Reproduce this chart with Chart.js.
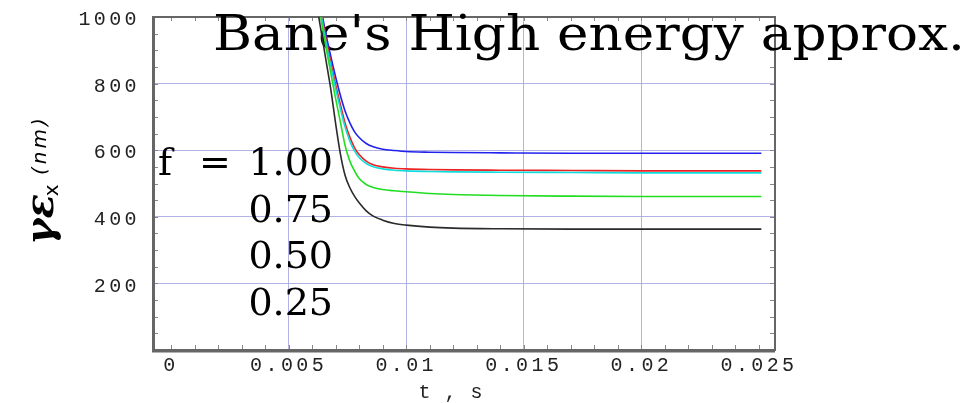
<!DOCTYPE html>
<html><head><meta charset="utf-8">
<script src="https://cdn.jsdelivr.net/npm/chart.js"></script>
<style>html,body{margin:0;padding:0;background:#fff}#wrap{width:974px;height:403px}</style>
</head><body><div id="wrap"><canvas id="c" width="974" height="403"></canvas></div>
<script>
// ---- data ----
const times = [0.0062, 0.0064, 0.0066, 0.0068, 0.0070, 0.0072, 0.0074, 0.0076, 0.0078, 0.0080, 0.0083, 0.0086, 0.0090, 0.0095, 0.0100, 0.0110, 0.0120, 0.0140, 0.0170, 0.0200, 0.0230, 0.0251];
const blueVals  = [1130, 1020, 945, 880, 820, 765, 718, 683, 656, 638, 620, 610, 603, 599, 596, 594, 593, 592, 591, 591, 591, 591];
const redVals   = [1110, 1010, 930, 862, 797, 738, 682, 640, 608, 587, 567, 556, 550, 546, 544, 542, 541, 540, 539, 538, 538, 538];
const cyanVals  = [1100, 1000, 920, 850, 785, 725, 670, 628, 598, 578, 560, 550, 544, 540, 538, 536, 535, 534, 533, 532, 532, 532];
const greenVals = [1080, 985, 905, 830, 755, 685, 615, 568, 538, 515, 497, 488, 482, 478, 475, 470, 467, 464, 462, 461, 461, 461];
const blackVals = [1035, 950, 865, 780, 680, 590, 525, 488, 462, 442, 418, 402, 390, 380, 375, 369, 366, 364, 363, 363, 363, 363];
const xTickLabels = ['0', '0.005', '0.01', '0.015', '0.02', '0.025'];
const yTickLabels = ['200', '400', '600', '800', '1000'];
const fLabels = ['1.00', '0.75', '0.50', '0.25'];
const titleText = "Bane's High energy approx.";
const xTitle = 't , s';

const pts = vals => times.map((t, i) => ({x: t, y: vals[i]}));
const mk = (vals, color) => ({data: pts(vals), borderColor: color, borderWidth: 1.6, pointRadius: 0, fill: false, cubicInterpolationMode: 'monotone'});

const GRID = 'rgba(170,170,225,0.9)';
const FRAME = '#666';

const decor = {
  id: 'decor',
  beforeDraw(chart) { chart.ctx.letterSpacing = '3.4px'; },
  beforeDatasetsDraw(chart) {
    const {ctx, chartArea: a, scales: {x, y}} = chart;
    ctx.save();
    ctx.letterSpacing = '0px';
    // minor ticks
    ctx.strokeStyle = '#888'; ctx.lineWidth = 1;
    ctx.beginPath();
    for (let v = 50; v < 1000; v += 50) {
      const py = Math.round(y.getPixelForValue(v)) + 0.5;
      ctx.moveTo(a.left, py); ctx.lineTo(a.left + 5, py);
      ctx.moveTo(a.right, py); ctx.lineTo(a.right - 5, py);
    }
    for (let k = 0; k <= 25; k++) {
      const px = Math.round(x.getPixelForValue(k * 0.001)) + 0.5;
      ctx.moveTo(px, a.bottom); ctx.lineTo(px, a.bottom - 5);
      ctx.moveTo(px, a.top); ctx.lineTo(px, a.top + 4);
    }
    ctx.stroke();
    // frame
    ctx.strokeStyle = FRAME;
    ctx.lineWidth = 2;
    ctx.strokeRect(a.left, a.top, a.right - a.left, a.bottom - a.top);
    ctx.lineWidth = 3;
    ctx.beginPath(); ctx.moveTo(a.left + 0.5, a.top); ctx.lineTo(a.left + 0.5, a.bottom + 1); ctx.lineTo(a.right, a.bottom + 1); ctx.stroke();
    // title (stretched to the reference width)
    ctx.fillStyle = '#000';
    ctx.textBaseline = 'alphabetic';
    ctx.font = '48px "DejaVu Serif"';
    ctx.textAlign = 'left';
    const tw = ctx.measureText(titleText).width;
    ctx.save();
    ctx.translate(213, 50);
    ctx.scale(752 / tw, 1);
    ctx.fillText(titleText, 0, 0);
    ctx.restore();
    // f legend text
    ctx.font = '38px "DejaVu Serif"';
    ctx.textAlign = 'left';
    ctx.fillText('f', 158, 175);
    ctx.textAlign = 'center';
    ctx.fillText('=', 215, 175);
    ctx.textAlign = 'right';
    fLabels.forEach((s, i) => ctx.fillText(s, 333, 175 + i * 46.7));
    // x title
    ctx.font = '20px "Liberation Mono"';
    ctx.letterSpacing = '1px';
    ctx.textAlign = 'center';
    ctx.fillStyle = '#222';
    ctx.fillText(xTitle, 451, 398);
    ctx.letterSpacing = '0px';
    // y title rotated
    ctx.translate(53, 245);
    ctx.rotate(-Math.PI / 2);
    ctx.fillStyle = '#000';
    ctx.textAlign = 'left';
    ctx.font = 'bold italic 40px "DejaVu Serif"';
    ctx.fillText('\u03B3\u03B5', 0, 0);
    const w = ctx.measureText('\u03B3\u03B5').width;
    ctx.font = '20px "DejaVu Sans"';
    ctx.fillText('x', w - 2, 5);
    ctx.font = 'italic 20px "DejaVu Sans"';
    ctx.letterSpacing = '3px';
    ctx.fillText('(nm)', 70, -7);
    ctx.restore();
  },
  afterDraw(chart) { chart.ctx.letterSpacing = '0px'; }
};

new Chart(document.getElementById('c'), {
  type: 'line',
  data: {datasets: [mk(blackVals, '#2a2a2a'), mk(greenVals, '#22dd22'), mk(cyanVals, '#11dddd'), mk(redVals, '#ee2222'), mk(blueVals, '#2222ee')]},
  options: {
    responsive: false, animation: false, devicePixelRatio: 1,
    layout: {padding: {top: 17, right: 199, left: 0, bottom: 0}},
    plugins: {legend: {display: false}, tooltip: {enabled: false}, title: {display: false}},
    scales: {
      x: {
        type: 'linear', min: -0.000765, max: 0.02568,
        border: {display: false},
        grid: {drawTicks: false, color: c => (c.tick && (c.tick.value === 0 || c.tick.value >= 0.025)) ? 'rgba(0,0,0,0)' : GRID},
        ticks: {stepSize: 0.005, includeBounds: false, autoSkip: false, maxRotation: 0, padding: 4, color: '#222',
          font: {family: 'Liberation Mono', size: 20},
          callback: v => xTickLabels[Math.round(v / 0.005)] ?? ''},
        afterFit: s => { s.height = 53; s.paddingLeft = 0; s.paddingRight = 0; }
      },
      y: {
        type: 'linear', min: 0, max: 1000,
        border: {display: false},
        grid: {drawTicks: false, color: c => (c.tick && (c.tick.value === 0 || c.tick.value === 1000)) ? 'rgba(0,0,0,0)' : GRID},
        ticks: {stepSize: 200, padding: 13, labelOffset: 3, color: '#222',
          font: {family: 'Liberation Mono', size: 20},
          callback: v => v === 0 ? '' : (yTickLabels[Math.round(v / 200) - 1] ?? '')},
        afterFit: s => { s.width = 153; s.paddingTop = 0; s.paddingBottom = 0; }
      }
    }
  },
  plugins: [decor]
});
</script></body></html>
